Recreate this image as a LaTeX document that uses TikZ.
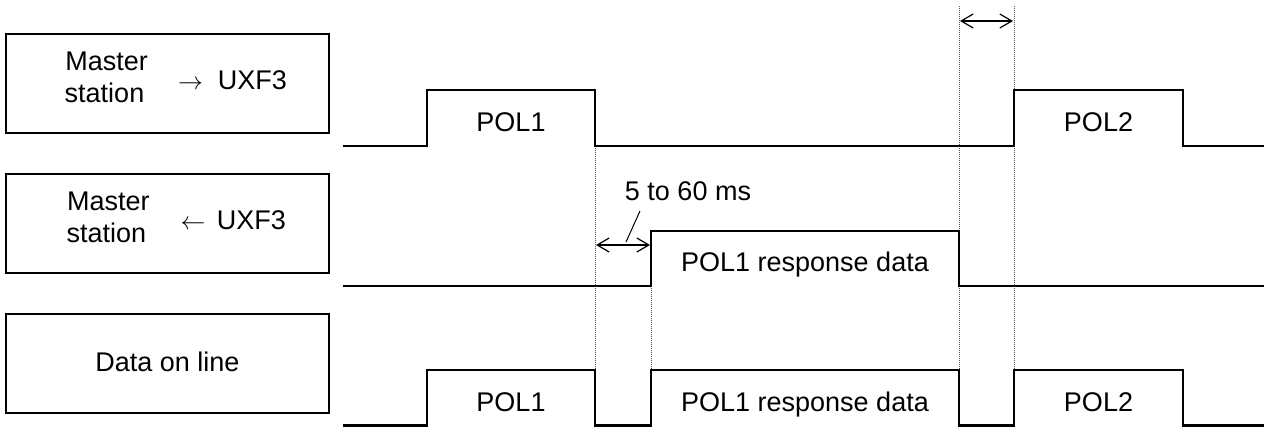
\documentclass[tikz,border=0pt]{standalone}
\usepackage{fontspec}
\setmainfont{Liberation Sans}
\usetikzlibrary{arrows.meta}
\tikzset{
  lbox/.style={draw, line width=2pt, minimum width=323pt, minimum height=99pt, inner sep=0pt},
  txt/.style={anchor=base, inner sep=0pt, font=\fontsize{27}{32}\selectfont},
  wave/.style={line width=2.6pt, line join=miter},
  guide/.style={line width=0.8pt, black!70, dash pattern=on 1pt off 1pt},
  dim/.style={line width=1.2pt, {Straight Barb[length=12pt,width=14pt]}-{Straight Barb[length=12pt,width=14pt]}},
  leader/.style={line width=1pt}
}
\begin{document}
\begin{tikzpicture}[x=1pt,y=-1pt]
\useasboundingbox (0,0) rectangle (1264,427);
% label boxes
\node[lbox] (b1) at (167.5,83.5) {};
\node[lbox] (b2) at (167.5,223.5) {};
\node[lbox] (b3) at (167.5,363.5) {};
\node[txt] (m1) at (106.7,71) {Master};
\node[txt] (s1) at (104.5,103) {station};
\node[txt] (a1) at (190.5,90) {$\rightarrow$};
\node[txt] (u1) at (252.5,90) {UXF3};
\node[txt] (m2) at (108.3,211) {Master};
\node[txt] (s2) at (106.3,243) {station};
\node[txt] (a2) at (193,230) {$\leftarrow$};
\node[txt] (u2) at (251.5,230) {UXF3};
\node[txt] (d3) at (167.5,372) {Data on line};
% guides
\draw[guide] (595,146) -- (595,370);
\draw[guide] (651,286) -- (651,370);
\draw[guide] (959,6) -- (959,370);
\draw[guide] (1014,6) -- (1014,370);
% waveforms
\draw[wave] (343,146) -- (427,146) -- (427,90) -- (595,90) -- (595,146) -- (1014,146) -- (1014,90) -- (1183,90) -- (1183,146) -- (1264,146);
\draw[wave] (343,286) -- (651,286) -- (651,231) -- (959,231) -- (959,286) -- (1264,286);
\draw[wave] (343,425.5) -- (427,425.5) -- (427,370) -- (595,370) -- (595,425.5) -- (651,425.5) -- (651,370) -- (959,370) -- (959,425.5) -- (1014,425.5) -- (1014,370) -- (1183,370) -- (1183,425.5) -- (1264,425.5);
% waveform labels
\node[txt] (p1a) at (511,131.5) {POL1};
\node[txt] (p2a) at (1098.5,131.5) {POL2};
\node[txt] (r2) at (805,271.5) {POL1 response data};
\node[txt] (p1b) at (511,411.5) {POL1};
\node[txt] (r3) at (805,411.5) {POL1 response data};
\node[txt] (p2b) at (1098.5,411.5) {POL2};
% dimensions
\coordinate (g1a) at (596,245);
\coordinate (g1b) at (650,245);
\coordinate (g2a) at (960,21);
\coordinate (g2b) at (1013,21);
\draw[dim] (g1a) -- (g1b);
\draw[dim] (g2a) -- (g2b);
\node[txt] (t1) at (688,201) {5 to 60 ms};
\coordinate (l1) at (640,211);
\coordinate (l2) at (626,242);
\draw[leader] (l1) -- (l2);
\end{tikzpicture}
\end{document}
